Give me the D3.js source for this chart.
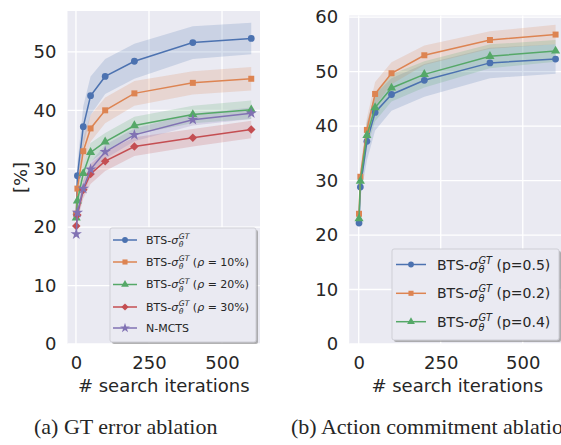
<!DOCTYPE html>
<html>
<head>
<meta charset="utf-8">
<script src="https://cdn.jsdelivr.net/npm/d3@7"></script>
<style>
  body { margin: 0; background: #fff; }
  svg { display: block; }
  text { font-family: "DejaVu Sans", sans-serif; fill: #262626; }
</style>
</head>
<body>
<svg width="561" height="445"></svg>
<script>
const W = 561, H = 445
const svg = d3.select('svg').style('background', '#fff')

// search iterations (x)
var iters = [1, 5, 25, 50, 100, 200, 400, 600]

// (a) GT error ablation
var btsGT       = [22.2, 28.8, 37.2, 42.5, 45.8, 48.4, 51.6, 52.3]
var btsGTStd    = [1.0, 2.0, 3.5, 3.3, 3.0, 3.0, 2.8, 2.7]
var rho10       = [22.3, 26.6, 33.0, 36.9, 40.0, 42.9, 44.7, 45.4]
var rho10Std    = [1.0, 1.5, 2.2, 2.3, 2.2, 2.1, 2.0, 2.0]
var rho20       = [21.6, 24.5, 29.2, 32.8, 34.6, 37.4, 39.3, 40.1]
var rho20Std    = [1.0, 1.2, 1.6, 1.6, 1.5, 1.5, 1.5, 1.6]
var rho30       = [20.2, 22.1, 26.4, 29.1, 31.3, 33.8, 35.3, 36.7]
var rho30Std    = [0.8, 1.0, 1.5, 1.7, 1.7, 1.6, 1.5, 1.5]
var nmcts       = [18.8, 22.5, 26.6, 29.9, 32.9, 35.8, 38.4, 39.5]
var nmctsStd    = [0.8, 1.0, 1.2, 1.2, 1.2, 1.1, 1.0, 1.0]

// (b) action commitment ablation
var p05         = [22.2, 28.8, 37.2, 42.5, 45.8, 48.4, 51.6, 52.3]
var p05Std      = [1.0, 2.0, 3.5, 3.3, 3.0, 3.0, 2.8, 2.7]
var p02         = [23.9, 30.7, 39.3, 45.9, 49.7, 53.0, 55.8, 56.8]
var p02Std      = [1.0, 1.5, 2.2, 2.2, 2.0, 1.8, 1.6, 1.8]
var p04         = [23.0, 29.9, 38.3, 43.4, 47.0, 49.5, 52.8, 53.8]
var p04Std      = [1.0, 1.5, 2.3, 2.5, 2.5, 2.4, 2.2, 2.0]

var xTicks = [0, 250, 500]
var yTicksA = [0, 10, 20, 30, 40, 50]
var yTicksB = [0, 10, 20, 30, 40, 50, 60]

var colors = {blue: "#4C72B0", orange: "#DD8452", green: "#55A868", red: "#C44E52", purple: "#8172B3"}

var seriesA = [
  {vals: btsGT, std: btsGTStd, color: colors.blue, marker: "circle"},
  {vals: rho10, std: rho10Std, color: colors.orange, marker: "square"},
  {vals: rho20, std: rho20Std, color: colors.green, marker: "triangle"},
  {vals: rho30, std: rho30Std, color: colors.red, marker: "diamond"},
  {vals: nmcts, std: nmctsStd, color: colors.purple, marker: "star"}
]
var labelsA = [
  {math: true, tail: null},
  {math: true, tail: "10%)"},
  {math: true, tail: "20%)"},
  {math: true, tail: "30%)"},
  {math: false, plain: "N-MCTS"}
]
var seriesB = [
  {vals: p05, std: p05Std, color: colors.blue, marker: "circle", tail: " (p=0.5)"},
  {vals: p02, std: p02Std, color: colors.orange, marker: "square", tail: " (p=0.2)"},
  {vals: p04, std: p04Std, color: colors.green, marker: "triangle", tail: " (p=0.4)"}
]

// matplotlib "D" is a square turned 45 degrees, not d3's thin diamond
var fatDiamond = {
  draw: function(ctx, size) {
    var r = Math.sqrt(size / 2)
    ctx.moveTo(0, -r); ctx.lineTo(r, 0); ctx.lineTo(0, r); ctx.lineTo(-r, 0); ctx.closePath()
  }
}

function markerPath(type, s) {
  var sym = {
    circle: d3.symbolCircle, square: d3.symbolSquare, triangle: d3.symbolTriangle,
    diamond: fatDiamond, star: d3.symbolStar
  }[type]
  return d3.symbol().type(sym).size(s)()
}

function drawPanel(cfg) {
  var x = d3.scaleLinear().domain([-28.95, 629.95]).range([cfg.left, cfg.right])
  var y = d3.scaleLinear().domain(cfg.yDomain).range([cfg.bottom, cfg.top])
  var g = svg.append("g")

  g.append("rect")
    .attr("x", cfg.left).attr("y", cfg.top)
    .attr("width", cfg.right - cfg.left).attr("height", cfg.bottom - cfg.top)
    .attr("fill", "#EAEAF2")

  // grid
  g.selectAll(".gx").data(xTicks).enter().append("line")
    .attr("x1", d => x(d)).attr("x2", d => x(d))
    .attr("y1", cfg.top).attr("y2", cfg.bottom)
    .attr("stroke", "#fff").attr("stroke-width", 1.3)
  g.selectAll(".gy").data(cfg.yTicks).enter().append("line")
    .attr("x1", cfg.left).attr("x2", cfg.right)
    .attr("y1", d => y(d)).attr("y2", d => y(d))
    .attr("stroke", "#fff").attr("stroke-width", 1.3)

  // axes (labels only)
  var ax = g.append("g").attr("transform", "translate(0," + cfg.bottom + ")")
    .call(d3.axisBottom(x).tickValues(xTicks).tickSize(0).tickPadding(12))
  var ay = g.append("g").attr("transform", "translate(" + cfg.left + ",0)")
    .call(d3.axisLeft(y).tickValues(cfg.yTicks).tickSize(0).tickPadding(11))
  ;[ax, ay].forEach(function(a) {
    a.select(".domain").remove()
    a.selectAll("text").style("font-size", "18px").style("font-family", "DejaVu Sans").attr("fill", "#262626")
  })

  g.append("text")
    .attr("x", (cfg.left + cfg.right) / 2).attr("y", 392)
    .attr("text-anchor", "middle").style("font-size", "18px")
    .text("# search iterations")

  var plot = g.append("g")
  var area = d3.area()
    .x((d, i) => x(iters[i]))
    .y0(d => y(d[0] - d[1]))
    .y1(d => y(d[0] + d[1]))
  var line = d3.line().x((d, i) => x(iters[i])).y(d => y(d))

  cfg.series.forEach(function(s) {
    plot.append("path")
      .datum(s.vals.map((v, i) => [v, s.std[i]]))
      .attr("d", area)
      .attr("fill", s.color).attr("fill-opacity", 0.2)
  })
  cfg.series.forEach(function(s) {
    plot.append("path").datum(s.vals).attr("d", line)
      .attr("fill", "none").attr("stroke", s.color).attr("stroke-width", 1.5)
    plot.selectAll(null).data(s.vals).enter().append("path")
      .attr("d", markerPath(s.marker, s.marker == "star" ? 40 : 36))
      .attr("transform", (d, i) => "translate(" + x(iters[i]) + "," + y(d) + ")")
      .attr("fill", s.color)
  })
  return g
}

// writes BTS-σ_θ^GT and returns its end x
function mathLabel(g, x0, y0, fs) {
  var t = g.append("text").attr("x", x0).attr("y", y0).style("font-size", fs + "px")
  t.append("tspan").text("BTS-")
  t.append("tspan").text("σ").style("font-style", "italic")
  var w = t.node().getComputedTextLength()
  var sup = g.append("text").attr("x", x0 + w + 0.5).attr("y", y0 - fs * 0.42)
    .style("font-size", (fs * 0.7) + "px").style("font-style", "italic").text("GT")
  g.append("text").attr("x", x0 + w + 0.5).attr("y", y0 + fs * 0.28)
    .style("font-size", (fs * 0.7) + "px").style("font-style", "italic").text("θ")
  return x0 + w + 0.5 + sup.node().getComputedTextLength()
}

function drawLegend(g, box, rows, fs, lineX, textX) {
  g.append("rect")
    .attr("x", box[0] + 2).attr("y", box[1] + 2)
    .attr("width", box[2] - box[0]).attr("height", box[3] - box[1])
    .attr("rx", 2).attr("fill", "#777").attr("fill-opacity", 0.55)
  g.append("rect")
    .attr("x", box[0]).attr("y", box[1])
    .attr("width", box[2] - box[0]).attr("height", box[3] - box[1])
    .attr("rx", 2).attr("fill", "#EAEAF2").attr("stroke", "#cfcfd6").attr("stroke-width", 1)
  rows.forEach(function(r) {
    g.append("line").attr("x1", lineX[0]).attr("x2", lineX[1])
      .attr("y1", r.y).attr("y2", r.y)
      .attr("stroke", r.color).attr("stroke-width", 1.5)
    g.append("path").attr("d", markerPath(r.marker, r.marker == "star" ? 30 : 26))
      .attr("transform", "translate(" + (lineX[0] + lineX[1]) / 2 + "," + r.y + ")")
      .attr("fill", r.color)
    var ty = r.y + fs * 0.36
    r.write(g, textX, ty, fs)
  })
}

// panel (a)
var ga = drawPanel({left: 67.5, right: 260, top: 11, bottom: 344, yDomain: [0, 57],
  yTicks: yTicksA, series: seriesA})
svg.append("text")
  .attr("transform", "translate(27," + (11 + 344) / 2 + ") rotate(-90)")
  .attr("text-anchor", "middle").style("font-size", "18px").text("[%]")

var rowYA = [240, 262, 284.5, 307, 328]
drawLegend(ga, [110, 228, 256, 342], seriesA.map(function(s, i) {
  var lab = labelsA[i]
  return {y: rowYA[i], color: s.color, marker: s.marker, write: function(g, x0, y0, fs) {
    if (!lab.math) {
      g.append("text").attr("x", x0).attr("y", y0).style("font-size", fs + "px").text(lab.plain)
      return
    }
    var xe = mathLabel(g, x0, y0, fs)
    if (lab.tail) {
      var t = g.append("text").attr("x", xe).attr("y", y0).style("font-size", fs + "px")
        .attr("xml:space", "preserve")
      t.append("tspan").text(" (")
      t.append("tspan").text("ρ").style("font-style", "italic")
      t.append("tspan").text(" = " + lab.tail)
    }
  }}
}), 11, [113, 137], 146)

// panel (b)
var gb = drawPanel({left: 349.2, right: 565.4, top: 15.5, bottom: 344, yDomain: [0, 60.3],
  yTicks: yTicksB, series: seriesB})

var rowYB = [264.5, 293.3, 321.7]
drawLegend(gb, [392, 249, 559, 340], seriesB.map(function(s, i) {
  return {y: rowYB[i], color: s.color, marker: s.marker, write: function(g, x0, y0, fs) {
    var xe = mathLabel(g, x0, y0, fs)
    g.append("text").attr("x", xe).attr("y", y0).style("font-size", fs + "px")
      .attr("xml:space", "preserve").text(s.tail)
  }}
}), 14, [396, 426], 437)

// captions
svg.append("text").attr("x", 34).attr("y", 434)
  .style("font-family", "Liberation Serif").style("font-size", "22px").attr("fill", "#000")
  .text("(a) GT error ablation")
svg.append("text").attr("x", 291).attr("y", 434)
  .style("font-family", "Liberation Serif").style("font-size", "22px").attr("fill", "#000")
  .text("(b) Action commitment ablation")
</script>
</body>
</html>
